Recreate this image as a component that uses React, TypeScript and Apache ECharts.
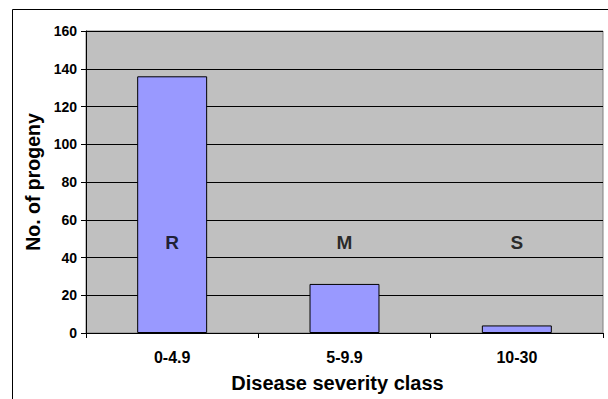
import React, { useEffect, useRef } from "react";
import * as echarts from "echarts";

const categories = ["0-4.9", "5-9.9", "10-30"];
const progeny = [136, 26, 4];
const classLabels = ["R", "M", "S"];
const classLabelLevel = [48, 48, 48];
const yTicks = { min: 0, max: 160, interval: 20 };

export default function App() {
  const ref = useRef<HTMLDivElement>(null);
  useEffect(() => {
    if (!ref.current) return;
    const chart = echarts.init(ref.current, undefined, { renderer: "svg" });
    const font = "Liberation Sans, Arial, sans-serif";
    chart.setOption({
      animation: false,
      backgroundColor: "#ffffff",
      textStyle: { fontFamily: font },
      graphic: [
        {
          type: "rect",
          shape: { x: 12.5, y: 9.5, width: 640, height: 440 },
          style: { fill: "none", stroke: "#000", lineWidth: 1 },
          silent: true,
          z: 100,
        },
      ],
      grid: {
        left: 86,
        top: 31,
        right: 5,
        bottom: 66,
        show: true,
        backgroundColor: "#c0c0c0",
        borderColor: "#808080",
        borderWidth: 1,
      },
      xAxis: {
        type: "category",
        data: categories,
        name: "Disease severity class",
        nameLocation: "middle",
        nameGap: 40,
        nameTextStyle: {
          fontSize: 20,
          fontWeight: "bold",
          color: "#000",
          fontFamily: font,
          padding: [0, 14, 0, 0],
        },
        axisLine: { lineStyle: { color: "#000", width: 1 } },
        axisTick: { show: true, length: 5, lineStyle: { color: "#000" } },
        axisLabel: { fontSize: 16, fontWeight: "bold", color: "#000", margin: 16, fontFamily: font },
        splitLine: { show: false },
      },
      yAxis: {
        type: "value",
        min: yTicks.min,
        max: yTicks.max,
        interval: yTicks.interval,
        name: "No. of progeny",
        nameLocation: "middle",
        nameGap: 40,
        nameTextStyle: { fontSize: 19.5, fontWeight: "bold", color: "#000", fontFamily: font },
        axisLine: { show: true, lineStyle: { color: "#000", width: 1 } },
        axisTick: { show: true, length: 5, lineStyle: { color: "#000" } },
        axisLabel: { fontSize: 14, fontWeight: "bold", color: "#000", margin: 9, fontFamily: font },
        splitLine: { show: true, lineStyle: { color: "#000", width: 1 } },
      },
      series: [
        {
          type: "bar",
          data: progeny,
          barWidth: "40.6%",
          itemStyle: { color: "#9999ff", borderColor: "#000", borderWidth: 1 },
          z: 2,
        },
        {
          type: "scatter",
          data: classLabelLevel,
          symbolSize: 0,
          silent: true,
          z: 3,
          label: {
            show: true,
            position: "inside",
            formatter: (p: any) => classLabels[p.dataIndex],
            fontSize: 19,
            fontWeight: "bold",
            color: "#000",
            fontFamily: font,
          },
        },
      ],
    });
    return () => chart.dispose();
  }, []);
  return (
    <div
      ref={ref}
      style={{ position: "fixed", left: 0, top: 0, width: 608, height: 399 }}
    />
  );
}
